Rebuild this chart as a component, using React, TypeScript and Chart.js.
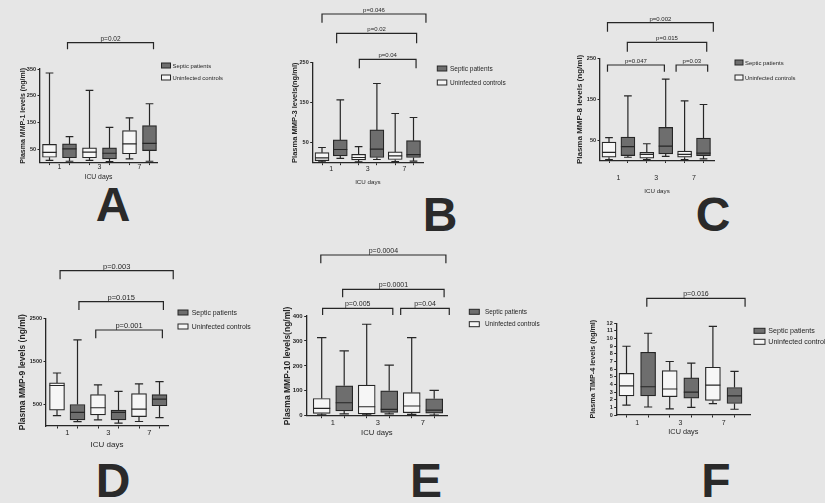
import React, { useEffect, useRef } from 'react';
import { Chart, registerables } from 'chart.js';

Chart.register(...registerables);

const FONT = 'Arial, "Liberation Sans", Helvetica, sans-serif';
Chart.defaults.font.family = FONT;
Chart.defaults.color = '#262626';

// ---------- text ----------
const SERIES_LABELS = ['Septic patients', 'Uninfected controls'];
const DAY_LABELS = ['1', '3', '7'];
const X_TITLE = 'ICU days';
const PANEL_LETTERS = ['A', 'B', 'C', 'D', 'E', 'F'];
const Y_TITLES = [
  'Plasma MMP-1 levels (ng/ml)',
  'Plasma MMP-3 levels(ng/ml)',
  'Plasma MMP-8 levels (ng/ml)',
  'Plasma MMP-9 levels (ng/ml)',
  'Plasma MMP-10 levels(ng/ml)',
  'Plasma TIMP-4 levels (ng/ml)',
];

// ---------- data: [min, Q1, median, Q3, max] for ICU day 1, 3, 7 ----------
const mmp1Septic = [[5, 18, 51, 70, 97], [4, 14, 35, 55, 132], [5, 45, 72, 138, 220]];
const mmp1Controls = [[8, 20, 38, 68, 335], [8, 18, 39, 55, 270], [14, 33, 70, 120, 167]];
const mmp1Ticks = [50, 150, 250, 350];
const mmp1P = ['p=0.02'];

const mmp3Septic = [[11, 17, 33, 57, 157], [8, 13, 34, 82, 198], [4, 13, 20, 55, 113]];
const mmp3Controls = [[2, 5, 12, 25, 38], [2, 7, 13, 21, 40], [3, 8, 17, 27, 123]];
const mmp3Ticks = [50, 150, 250];
const mmp3P = ['p=0.046', 'p=0.02', 'p=0.04'];

const mmp8Septic = [[8, 12, 34, 57, 158], [10, 16, 35, 81, 199], [4, 12, 18, 55, 137]];
const mmp8Controls = [[2, 8, 20, 45, 56], [2, 6, 15, 20, 41], [2, 8, 15, 23, 146]];
const mmp8Ticks = [50, 150, 250];
const mmp8P = ['p=0.002', 'p=0.015', 'p=0.047', 'p=0.03'];

const mmp9Septic = [[100, 143, 318, 500, 2000], [67, 143, 318, 371, 804], [196, 470, 622, 728, 1032]];
const mmp9Controls = [[240, 370, 940, 1000, 1230], [143, 257, 424, 728, 956], [105, 219, 393, 751, 979]];
const mmp9Ticks = [500, 1500, 2500];
const mmp9P = ['p=0.003', 'p=0.015', 'p=0.001'];

const mmp10Septic = [[7, 19, 52, 120, 260], [7, 13, 25, 100, 203], [2, 10, 22, 68, 102]];
const mmp10Controls = [[3, 9, 29, 69, 313], [3, 7, 36, 123, 367], [5, 12, 39, 93, 313]];
const mmp10Ticks = [0, 100, 200, 300, 400];
const mmp10P = ['p=0.0004', 'p=0.0001', 'p=0.005', 'p=0.04'];

const timp4Septic = [[1.05, 2.5, 3.7, 8.2, 10.7], [1.0, 2.2, 3.0, 4.85, 6.8], [0.75, 1.5, 2.5, 3.6, 5.7]];
const timp4Controls = [[1.3, 2.5, 3.8, 5.45, 9.0], [0.8, 2.4, 3.4, 5.8, 7.0], [1.5, 1.9, 3.9, 6.25, 11.6]];
const timp4Ticks = [0, 1, 2, 3, 4, 5, 6, 7, 8, 9, 10, 11, 12];
const timp4P = ['p=0.016'];

const PANELS = [
  { septic: mmp1Septic, controls: mmp1Controls, ticks: mmp1Ticks, p: mmp1P },
  { septic: mmp3Septic, controls: mmp3Controls, ticks: mmp3Ticks, p: mmp3P },
  { septic: mmp8Septic, controls: mmp8Controls, ticks: mmp8Ticks, p: mmp8P },
  { septic: mmp9Septic, controls: mmp9Controls, ticks: mmp9Ticks, p: mmp9P },
  { septic: mmp10Septic, controls: mmp10Controls, ticks: mmp10Ticks, p: mmp10P },
  { septic: timp4Septic, controls: timp4Controls, ticks: timp4Ticks, p: timp4P },
];

// ---------- categorical positions on the x scale ----------
const CONTROL_POS = [1, 3, 5];
const SEPTIC_POS = [2, 4, 6];
const LABEL_POS = [1.5, 3.5, 5.5];

// ---------- styles ----------
const INK = '#262626';
const SEPTIC_FILL = '#6e6e6e';
const CONTROL_FILL = '#f6f6f6';
const PAGE_BG = '#e6e6e6';

// ---------- layout (page pixel coordinates) ----------
const LAYOUTS = [
  { canvas: [0, 0, 285, 250], L: 40, R: 157, T: 69, B: 162.6, first: 49.5, step: 20, bw: 14,
    yTitleX: 23, yTitleFont: 7, xLabelY: 167.5, xLabelFont: 7, xTitleY: 177, xTitleFont: 6.8, tickFont: 5.5,
    legend: { x: 161.5, y: 63, w: 9, h: 5, dy: 12, tx: 172.5, font: 5.9 },
    brackets: [{ from: 1.9, to: 6.2, top: 42.7, drop: 6.6 }], pFont: 6.5, letter: [113, 204] },
  { canvas: [280, 0, 270, 250], L: 312.7, R: 423, T: 62.7, B: 162.7, first: 322, step: 18.3, bw: 14,
    yTitleX: 295, yTitleFont: 7.5, xLabelY: 169, xLabelFont: 7, xTitleY: 182.7, xTitleFont: 6.2, tickFont: 5.5,
    legend: { x: 437.3, y: 66, w: 9.5, h: 5, dy: 14, tx: 450, font: 6.5 },
    brackets: [
      { from: 1, to: 6.68, top: 14, drop: 8.7 },
      { from: 1.8, to: 6.17, top: 33.3, drop: 10 },
      { from: 3.04, to: 6.14, top: 59.3, drop: 9 },
    ], pFont: 6, letter: [440, 214] },
  { canvas: [550, 0, 275, 250], L: 600, R: 714, T: 58.3, B: 160.5, first: 609, step: 18.9, bw: 14,
    yTitleX: 580, yTitleFont: 8, xLabelY: 178.3, xLabelFont: 7, xTitleY: 191.7, xTitleFont: 6.2, tickFont: 5.5,
    legend: { x: 735, y: 60, w: 8, h: 5, dy: 15, tx: 745, font: 5.9 },
    brackets: [
      { from: 0.92, to: 6.52, top: 22.7, drop: 9 },
      { from: 1.97, to: 6.17, top: 42.3, drop: 9.4 },
      { from: 0.92, to: 3.93, top: 65, drop: 6.7 },
      { from: 4.55, to: 6.22, top: 65, drop: 6.7 },
    ], pFont: 6, letter: [713, 214] },
  { canvas: [0, 250, 285, 253], L: 46, R: 168, T: 318.3, B: 426, first: 57, step: 20.5, bw: 15,
    yTitleX: 22.7, yTitleFont: 8.5, xLabelY: 433, xLabelFont: 7.5, xTitleY: 445, xTitleFont: 8, tickFont: 5.5,
    legend: { x: 178, y: 310, w: 10, h: 5, dy: 14, tx: 191.7, font: 6.9 },
    brackets: [
      { from: 1.15, to: 6.67, top: 270.7, drop: 8.6 },
      { from: 2.07, to: 6.19, top: 301.7, drop: 8.3 },
      { from: 2.89, to: 6.14, top: 330, drop: 8.3 },
    ], pFont: 7.5, letter: [113, 480] },
  { canvas: [280, 240, 280, 263], L: 306.7, R: 447, T: 316, B: 415.7, first: 321.7, step: 22.5, bw: 17,
    yTitleX: 288, yTitleFont: 8.5, xLabelY: 423, xLabelFont: 7.5, xTitleY: 433.3, xTitleFont: 7.7, tickFont: 6,
    legend: { x: 469.3, y: 309.3, w: 10, h: 5, dy: 12.4, tx: 485, font: 6.4 },
    brackets: [
      { from: 0.96, to: 6.52, top: 255, drop: 8.3 },
      { from: 1.93, to: 6.44, top: 289.3, drop: 8 },
      { from: 1.04, to: 4.16, top: 308.3, drop: 6.7 },
      { from: 4.51, to: 6.67, top: 308.3, drop: 6.7 },
    ], pFont: 7, letter: [426, 480] },
  { canvas: [550, 250, 275, 253], L: 616.7, R: 750, T: 323.3, B: 415, first: 626.5, step: 21.6, bw: 15,
    yTitleX: 592.7, yTitleFont: 7.2, xLabelY: 422.7, xLabelFont: 7, xTitleY: 432, xTitleFont: 7.3, tickFont: 5.5,
    legend: { x: 754, y: 328.3, w: 11, h: 5, dy: 11, tx: 768.3, font: 7.1 },
    brackets: [{ from: 1.94, to: 6.49, top: 298.3, drop: 8.4 }], pFont: 7, letter: [716, 480] },
];

function BoxPanel({ index }: { index: number }) {
  const ref = useRef<HTMLCanvasElement | null>(null);
  const lay: any = LAYOUTS[index];
  const [cx, cy, cw, ch] = lay.canvas;

  useEffect(() => {
    const canvas = ref.current;
    if (!canvas) return;
    const P = PANELS[index];
    const tickLen = 2.5;
    const yTitleLH = lay.yTitleFont * 1.2;
    const yw = lay.L - (lay.yTitleX - yTitleLH / 2);
    const xTitleLH = lay.xTitleFont * 1.2;
    const xh = lay.xTitleY + xTitleLH / 2 - lay.B;
    const xLabLH = lay.xLabelFont * 1.2;
    const xPad = lay.xLabelY - lay.B - tickLen - xLabLH / 2;
    const padding = {
      left: lay.L - cx - yw,
      top: lay.T - cy,
      right: cx + cw - lay.R,
      bottom: cy + ch - lay.B - xh,
    };
    const xMin = 1 - (lay.first - lay.L) / lay.step;
    const xMax = 1 + (lay.R - lay.first) / lay.step;
    const yTicks = P.ticks;
    const yMax = yTicks[yTicks.length - 1];

    const boxPlugin = {
      id: 'boxWhiskers' + index,
      afterDatasetsDraw(chart: any) {
        const ctx = chart.ctx;
        const ys = chart.scales.y;
        ctx.save();
        ctx.strokeStyle = INK;
        ctx.lineWidth = 1.2;
        [P.septic, P.controls].forEach((stats, d) => {
          const meta = chart.getDatasetMeta(d);
          meta.data.forEach((bar: any, i: number) => {
            const [mn, q1, md, q3, mx] = stats[i];
            const x = bar.x;
            const hw = bar.width / 2;
            const cap = hw * 0.55;
            const py = (v: number) => ys.getPixelForValue(v);
            ctx.beginPath();
            ctx.moveTo(x, py(q3)); ctx.lineTo(x, py(mx));
            ctx.moveTo(x - cap, py(mx)); ctx.lineTo(x + cap, py(mx));
            ctx.moveTo(x, py(q1)); ctx.lineTo(x, py(mn));
            ctx.moveTo(x - cap, py(mn)); ctx.lineTo(x + cap, py(mn));
            ctx.moveTo(x - hw, py(md)); ctx.lineTo(x + hw, py(md));
            ctx.stroke();
          });
        });
        ctx.restore();
      },
      afterDraw(chart: any) {
        const ctx = chart.ctx;
        const xs = chart.scales.x;
        ctx.save();
        ctx.strokeStyle = INK;
        ctx.fillStyle = INK;
        ctx.lineWidth = 1.2;
        ctx.font = `${lay.pFont}px ${FONT}`;
        ctx.textAlign = 'center';
        ctx.textBaseline = 'alphabetic';
        lay.brackets.forEach((b: any, k: number) => {
          const x1 = xs.getPixelForValue(b.from);
          const x2 = xs.getPixelForValue(b.to);
          const y = b.top - cy;
          ctx.beginPath();
          ctx.moveTo(x1, y + b.drop); ctx.lineTo(x1, y); ctx.lineTo(x2, y); ctx.lineTo(x2, y + b.drop);
          ctx.stroke();
          ctx.fillText(P.p[k], (x1 + x2) / 2, y - 2);
        });
        const lg = lay.legend;
        ctx.font = `${lg.font}px ${FONT}`;
        ctx.textAlign = 'left';
        ctx.textBaseline = 'middle';
        ctx.lineWidth = 1;
        chart.data.datasets.forEach((ds: any, k: number) => {
          const sx = lg.x - cx;
          const sy = lg.y - cy + k * lg.dy;
          ctx.fillStyle = ds.backgroundColor;
          ctx.fillRect(sx, sy, lg.w, lg.h);
          ctx.strokeRect(sx, sy, lg.w, lg.h);
          ctx.fillStyle = INK;
          ctx.fillText(ds.label, lg.tx - cx, sy + lg.h / 2 + 0.5);
        });
        ctx.restore();
      },
    };

    const mkData = (stats: number[][], pos: number[]) =>
      stats.map((s, i) => ({ x: pos[i], y: [s[1], s[3]] }));

    const chart = new Chart(canvas, {
      type: 'bar',
      data: {
        datasets: [
          {
            label: SERIES_LABELS[0],
            data: mkData(P.septic, SEPTIC_POS) as any,
            backgroundColor: SEPTIC_FILL,
            borderColor: INK,
            borderWidth: 1.2,
            borderSkipped: false,
            grouped: false,
            barThickness: lay.bw,
          } as any,
          {
            label: SERIES_LABELS[1],
            data: mkData(P.controls, CONTROL_POS) as any,
            backgroundColor: CONTROL_FILL,
            borderColor: INK,
            borderWidth: 1.2,
            borderSkipped: false,
            grouped: false,
            barThickness: lay.bw,
          } as any,
        ],
      },
      options: {
        animation: false,
        responsive: false,
        maintainAspectRatio: false,
        layout: { padding },
        plugins: { legend: { display: false }, tooltip: { enabled: false } },
        scales: {
          x: {
            type: 'linear',
            min: xMin,
            max: xMax,
            offset: false,
            grid: {
              display: true,
              drawOnChartArea: false,
              drawTicks: true,
              tickLength: tickLen,
              offset: false,
              tickColor: (c: any) => (c.tick && Number.isInteger(c.tick.value) ? INK : 'rgba(0,0,0,0)'),
              tickWidth: 1,
            },
            border: { display: true, color: INK, width: 1.3 },
            ticks: {
              autoSkip: false,
              maxRotation: 0,
              minRotation: 0,
              padding: xPad,
              color: INK,
              font: { size: lay.xLabelFont, family: FONT },
              callback: (v: any) => {
                const k = LABEL_POS.indexOf(Number(v));
                return k >= 0 ? DAY_LABELS[k] : '';
              },
            },
            afterBuildTicks: (s: any) => {
              const vals = [...CONTROL_POS, ...SEPTIC_POS, ...LABEL_POS].sort((a, b) => a - b);
              s.ticks = vals.map((v) => ({ value: v }));
            },
            afterFit: (s: any) => { s.height = xh; },
            title: {
              display: true,
              text: X_TITLE,
              color: INK,
              padding: 0,
              font: { size: lay.xTitleFont, family: FONT },
            },
          } as any,
          y: {
            type: 'linear',
            min: 0,
            max: yMax,
            grid: {
              display: true,
              drawOnChartArea: false,
              drawTicks: true,
              tickLength: tickLen,
              tickColor: INK,
              tickWidth: 1,
            },
            border: { display: true, color: INK, width: 1.3 },
            ticks: {
              autoSkip: false,
              padding: 1.5,
              color: INK,
              font: { size: lay.tickFont, family: FONT, weight: 'bold' },
              callback: (v: any) => String(v),
            },
            afterBuildTicks: (s: any) => { s.ticks = yTicks.map((v) => ({ value: v })); },
            afterFit: (s: any) => { s.width = yw; },
            title: {
              display: true,
              text: Y_TITLES[index],
              color: INK,
              padding: 0,
              font: { size: lay.yTitleFont, family: FONT, weight: 'bold' },
            },
          } as any,
        },
      },
      plugins: [boxPlugin as any],
    });
    return () => chart.destroy();
  }, [index]);

  return (
    <canvas
      ref={ref}
      width={cw}
      height={ch}
      style={{ position: 'absolute', left: cx, top: cy, width: cw, height: ch }}
    />
  );
}

export default function App() {
  return (
    <div
      style={{
        position: 'fixed',
        left: 0,
        top: 0,
        width: 825,
        height: 503,
        overflow: 'hidden',
        background: PAGE_BG,
      }}
    >
      {PANEL_LETTERS.map((ltr, i) => {
        const [lx, ly] = LAYOUTS[i].letter;
        return (
          <div
            key={'l' + i}
            style={{
              position: 'absolute',
              left: lx - 50,
              top: ly - 24.4,
              width: 100,
              textAlign: 'center',
              font: `bold 48px ${FONT}`,
              lineHeight: '50px',
              color: '#2a2a2a',
            }}
          >
            {ltr}
          </div>
        );
      })}
      {PANELS.map((_, i) => (
        <BoxPanel key={i} index={i} />
      ))}
    </div>
  );
}
